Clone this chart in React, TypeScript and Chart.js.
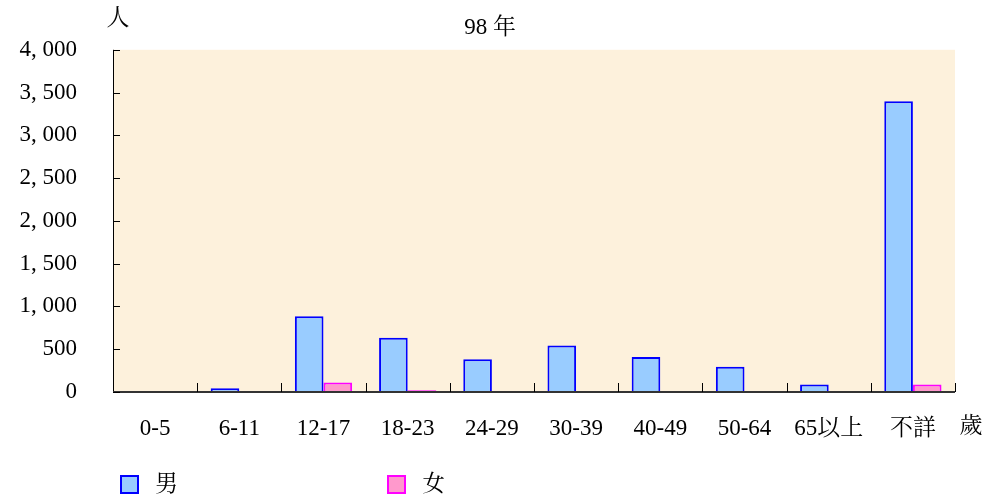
import React, { useEffect, useRef } from "react";
import { Chart, registerables } from "chart.js";

Chart.register(...registerables);

const categories = ["0-5", "6-11", "12-17", "18-23", "24-29", "30-39", "40-49", "50-64", "65以上", "不詳"];
const maleValues = [0, 43, 885, 634, 383, 545, 410, 294, 89, 3400];
const femaleValues = [0, 0, 112, 20, 0, 0, 0, 0, 0, 89];
const seriesNames = ["男", "女"];
const titleText = "98 年";
const yUnit = "人";
const xUnit = "歲";

const FONT = "'Liberation Serif', 'Noto Serif CJK TC', 'Noto Sans CJK TC', serif";
const MALE_FILL = "#99CCFF";
const MALE_BORDER = "#0000FF";
const FEMALE_FILL = "#FF99CC";
const FEMALE_BORDER = "#FF00FF";

function fmt(v: number): string {
  const s = Math.round(v).toString();
  if (s.length <= 3) return s;
  return s.slice(0, s.length - 3) + ", " + s.slice(s.length - 3);
}

const decorPlugin = {
  id: "decor",
  beforeDraw(chart: any) {
    const { ctx, chartArea } = chart;
    const { left, top, right, bottom } = chartArea;
    ctx.save();
    ctx.fillStyle = "#FDF1DC";
    ctx.fillRect(left, top, right - left, bottom - top);
    ctx.restore();
  },
  afterDraw(chart: any) {
    const { ctx, chartArea, scales } = chart;
    const { left, top, right, bottom } = chartArea;
    const y = scales.y;
    ctx.save();
    ctx.strokeStyle = "#000";
    ctx.lineWidth = 1;
    ctx.beginPath();
    ctx.moveTo(left + 0.5, top);
    ctx.lineTo(left + 0.5, bottom);
    ctx.stroke();
    ctx.strokeStyle = "#333";
    ctx.lineWidth = 2;
    ctx.beginPath();
    ctx.moveTo(left, bottom);
    ctx.lineTo(right, bottom);
    ctx.stroke();
    ctx.strokeStyle = "#000";
    ctx.lineWidth = 1;
    y.ticks.forEach((t: any) => {
      const py = Math.round(y.getPixelForValue(t.value)) + 0.5;
      ctx.beginPath();
      ctx.moveTo(left, py);
      ctx.lineTo(left + 7, py);
      ctx.stroke();
    });
    const n = categories.length;
    const w = (right - left) / n;
    for (let i = 1; i <= n; i++) {
      const px = Math.round(left + w * i) + 0.5;
      ctx.beginPath();
      ctx.moveTo(px, bottom);
      ctx.lineTo(px, bottom - 9);
      ctx.stroke();
    }
    ctx.fillStyle = "#000";
    ctx.font = "23px " + FONT;
    ctx.textBaseline = "middle";
    ctx.textAlign = "center";
    ctx.fillText(titleText, 490, 28);
    ctx.fillText(yUnit, 118, 19);
    ctx.fillText(xUnit, 971, 427);
    const items = [
      { name: seriesNames[0], fill: MALE_FILL, border: MALE_BORDER, x: 121 },
      { name: seriesNames[1], fill: FEMALE_FILL, border: FEMALE_BORDER, x: 388 },
    ];
    items.forEach((it) => {
      ctx.fillStyle = it.fill;
      ctx.fillRect(it.x, 476, 17, 17);
      ctx.strokeStyle = it.border;
      ctx.lineWidth = 2;
      ctx.strokeRect(it.x, 476, 17, 17);
      ctx.fillStyle = "#000";
      ctx.textAlign = "left";
      ctx.fillText(it.name, it.x + 34, 485);
    });
    ctx.restore();
  },
};

export default function App() {
  const canvasRef = useRef<HTMLCanvasElement | null>(null);

  useEffect(() => {
    if (!canvasRef.current) return;
    const chart = new Chart(canvasRef.current, {
      type: "bar",
      data: {
        labels: categories,
        datasets: [
          {
            label: seriesNames[0],
            data: maleValues,
            backgroundColor: MALE_FILL,
            borderColor: MALE_BORDER,
            borderWidth: 2,
            borderSkipped: "bottom",
            categoryPercentage: 0.68,
            barPercentage: 1,
          },
          {
            label: seriesNames[1],
            data: femaleValues,
            backgroundColor: FEMALE_FILL,
            borderColor: FEMALE_BORDER,
            borderWidth: 2,
            borderSkipped: "bottom",
            categoryPercentage: 0.68,
            barPercentage: 1,
          },
        ],
      },
      options: {
        responsive: false,
        animation: false,
        layout: { padding: { left: 0, right: 34, top: 47, bottom: 47 } },
        plugins: {
          legend: { display: false },
          tooltip: { enabled: false },
          title: { display: false },
        },
        scales: {
          x: {
            grid: { display: false, drawTicks: false },
            border: { display: false },
            ticks: {
              color: "#000",
              font: { family: FONT, size: 23 },
              padding: 23,
              maxRotation: 0,
              autoSkip: false,
            },
            afterFit: (s: any) => {
              s.height = 60;
            },
          },
          y: {
            min: 0,
            max: 4000,
            grid: { display: false, drawTicks: false },
            border: { display: false },
            ticks: {
              stepSize: 500,
              color: "#000",
              font: { family: FONT, size: 23 },
              padding: 36,
              callback: (v: any) => fmt(Number(v)),
            },
            afterFit: (s: any) => {
              s.width = 113;
            },
          },
        },
      },
      plugins: [decorPlugin],
    });
    return () => chart.destroy();
  }, []);

  return (
    <div style={{ position: "absolute", left: 0, top: 0, width: 989, height: 499, background: "#fff" }}>
      <canvas ref={canvasRef} width={989} height={499} />
    </div>
  );
}
